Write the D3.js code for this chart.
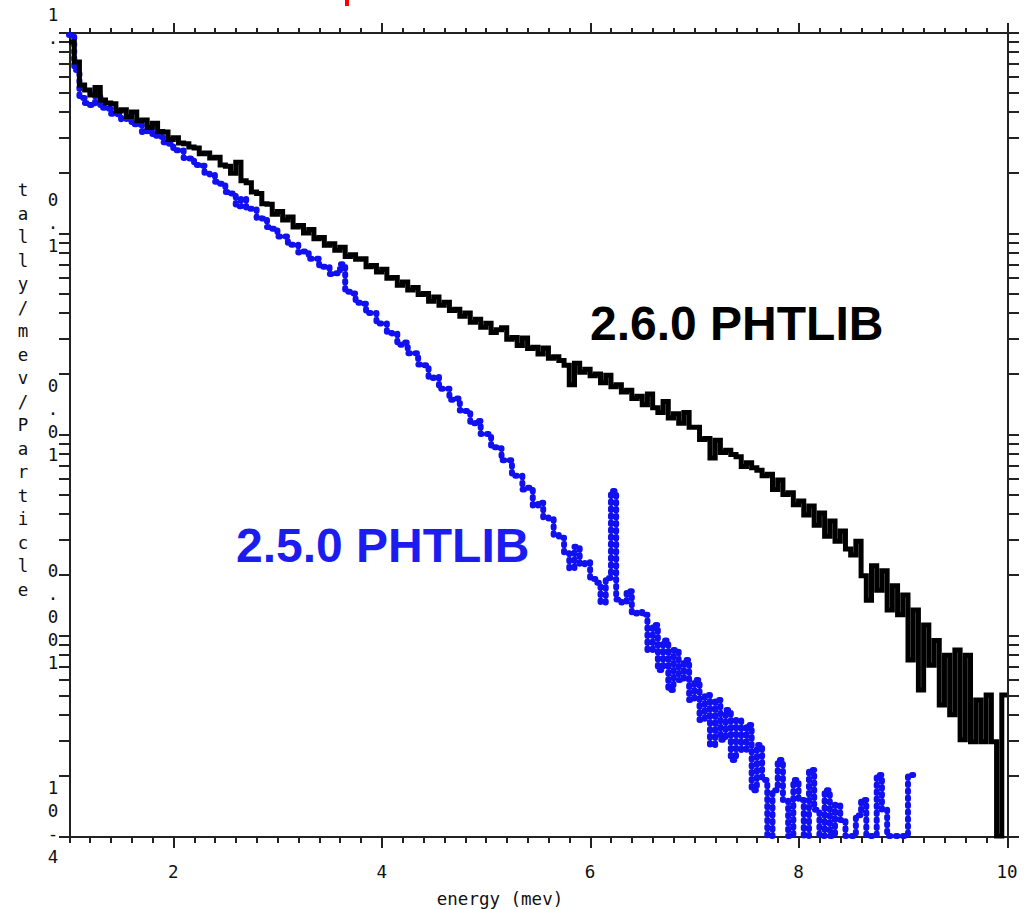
<!DOCTYPE html>
<html><head><meta charset="utf-8">
<script src="https://cdn.jsdelivr.net/npm/d3@7"></script>
<style>
body{margin:0;background:#fff}
svg{display:block}
.lbl{font-family:"DejaVu Sans Mono",monospace;font-size:17.5px;fill:#111}
.axis path,.axis line{stroke:#222;stroke-width:2;shape-rendering:crispEdges}
.axis text{display:none}
</style>
</head><body>
<svg id="c" width="1024" height="909"></svg>
<script>
// ---- data ----
const xMajorTicks = [2, 4, 6, 8, 10];
const xTickLabels = ["2", "4", "6", "8", "10"];
const yDecades = [1, 0.1, 0.01, 0.001, 0.0001];
const yTickLabels = ["1.", "0.1", "0.01", "0.001", "10-4"];
const yTitle = "tally/mev/Particle";
const xTitle = "energy (mev)";
const seriesNames = ["2.6.0 PHTLIB", "2.5.0 PHTLIB"];
const binStart = 1.0, binWidth = 0.05;

// 2.6.0 PHTLIB (black), tally per 0.05 MeV bin from 1.0 MeV
const phtlib260 = [
 0.892,0.710,0.545,0.515,0.486,0.530,0.459,0.443,0.440,0.405,
 0.410,0.380,0.400,0.362,0.365,0.335,0.352,0.320,0.318,0.292,
 0.298,0.280,0.278,0.268,0.265,0.248,0.250,0.236,0.238,0.218,
 0.215,0.198,0.225,0.182,0.178,0.160,0.157,0.140,0.139,0.124,
 0.128,0.116,0.120,0.107,0.109,0.100,0.104,0.0935,0.0950,0.0870,
 0.0885,0.0820,0.0850,0.0765,0.0780,0.0740,0.0745,0.0680,0.0690,0.0640,
 0.0660,0.0595,0.0600,0.0550,0.0570,0.0520,0.0535,0.0495,0.0500,0.0458,
 0.0480,0.0437,0.0452,0.0412,0.0418,0.0385,0.0400,0.0360,0.0372,0.0340,
 0.0356,0.0320,0.0330,0.0338,0.0296,0.0302,0.0276,0.0300,0.0266,0.0270,
 0.0250,0.0268,0.0238,0.0242,0.0232,0.0220,0.0176,0.0225,0.0203,0.0210,
 0.0195,0.0199,0.0180,0.0196,0.0172,0.0176,0.0162,0.0165,0.0150,0.0154,
 0.0140,0.0158,0.0135,0.0128,0.0145,0.0120,0.0126,0.0113,0.0128,0.0108,
 0.0108,0.00940,0.00950,0.00760,0.00930,0.00810,0.00830,0.00790,0.00770,0.00690,
 0.00720,0.00680,0.00660,0.00620,0.00630,0.00530,0.00590,0.00500,0.00510,0.00445,
 0.00464,0.00395,0.00438,0.00352,0.00405,0.00310,0.00369,0.00293,0.00329,0.00268,
 0.00250,0.00293,0.00197,0.00149,0.00221,0.00167,0.00209,0.00133,0.00176,0.00126,
 0.00158,0.000750,0.00133,0.000532,0.00112,0.000708,0.000940,0.000449,0.000794,0.000401,
 0.000841,0.000301,0.000794,0.000294,0.000475,0.000294,0.000503,0.000294,0,0.000503
];
// 2.5.0 PHTLIB (blue)
const phtlib250 = [
 0.966,0.647,0.470,0.443,0.433,0.503,0.420,0.415,0.392,0.390,
 0.368,0.370,0.348,0.345,0.318,0.335,0.305,0.300,0.283,0.278,
 0.258,0.257,0.236,0.235,0.218,0.216,0.197,0.195,0.180,0.176,
 0.160,0.157,0.136,0.148,0.132,0.132,0.119,0.118,0.107,0.105,
 0.0960,0.0960,0.0875,0.0875,0.0800,0.0810,0.0745,0.0745,0.0680,0.0680,
 0.0625,0.0630,0.0700,0.0510,0.0500,0.0450,0.0445,0.0400,0.0400,0.0355,
 0.0355,0.0318,0.0315,0.0278,0.0285,0.0252,0.0252,0.0222,0.0220,0.0190,
 0.0192,0.0168,0.0168,0.0148,0.0150,0.0131,0.0130,0.0113,0.0116,0.0100,
 0.0100,0.00860,0.00850,0.00740,0.00740,0.00620,0.00620,0.00530,0.00540,0.00440,
 0.00455,0.00385,0.00380,0.00315,0.00305,0.00255,0.00215,0.00275,0.00225,0.00230,
 0.00190,0.00182,0.00145,0.00192,0.00520,0.00150,0.00145,0.00165,0.00128,0.00130,
 0.00126,0.000841,0.00112,0.000669,0.000940,0.000532,0.000841,0.000597,0.000750,0.000475,
 0.000597,0.000378,0.000503,0.000284,0.000475,0.000301,0.000423,0.000239,0.000378,0.000268,
 0.000357,0.000169,0.000284,0.000190,0,0.000169,0.000239,0.000151,0,0.000190,
 0.000151,0,0.000213,0.000135,0,0.000169,0,0.000143,0.000120,0,
 0,0.000127,0.000151,0,0,0.000201,0.000135,0,0,0,
 0,0.000201
];

// ---- layout ----
const L = 69, R = 1007, T = 32, B = 836;
const svg = d3.select("#c");
const x = d3.scaleLinear().domain([1, 10]).range([L, R]);
const y = d3.scaleLog().domain([1e-4, 1]).range([B, T]);
const yv = v => v > 0 ? Math.max(T, Math.min(B, y(v))) : B;

// red fragment of cropped title
svg.append("rect").attr("x", 345).attr("y", 0).attr("width", 4).attr("height", 6).attr("fill", "#f00");

// ticks
const xMinor = d3.range(0, 46).map(i => +(1 + i * 0.2).toFixed(2)).filter(v => !xMajorTicks.includes(v));
const yTicks = [];
[-4, -3, -2, -1].forEach(k => { for (let m = 1; m <= 9; m++) yTicks.push(+(m * Math.pow(10, k)).toPrecision(3)); });
yTicks.push(1);

svg.append("g").attr("class", "axis").attr("transform", `translate(0,${B})`)
  .call(d3.axisBottom(x).tickValues(xMinor).tickSize(7).tickSizeOuter(0));
svg.append("g").attr("class", "axis").attr("transform", `translate(0,${B})`)
  .call(d3.axisBottom(x).tickValues(xMajorTicks).tickSize(12).tickSizeOuter(0));
svg.append("g").attr("class", "axis").attr("transform", `translate(0,${T})`)
  .call(d3.axisTop(x).tickValues(xMinor).tickSize(4).tickSizeOuter(0));
svg.append("g").attr("class", "axis").attr("transform", `translate(0,${T})`)
  .call(d3.axisTop(x).tickValues(xMajorTicks).tickSize(9).tickSizeOuter(0));
svg.append("g").attr("class", "axis").attr("transform", `translate(${L},0)`)
  .call(d3.axisLeft(y).tickValues(yTicks).tickSize(10).tickSizeOuter(0));
svg.append("g").attr("class", "axis").attr("transform", `translate(${R},0)`)
  .call(d3.axisRight(y).tickValues(yTicks).tickSize(12).tickSizeOuter(0));

// x tick labels
svg.selectAll(".xl").data(xMajorTicks).enter().append("text")
  .attr("class", "lbl").attr("x", d => x(d)).attr("y", 878)
  .attr("text-anchor", "middle").text((d, i) => xTickLabels[i]);
svg.append("text").attr("class", "lbl").attr("x", 500).attr("y", 905)
  .attr("text-anchor", "middle").text(xTitle);

// y tick labels, stacked vertically
const pitch = 23;
yDecades.forEach((d, i) => {
  const s = yTickLabels[i];
  const first = y(d) - 2 - 15.5 * (s.length - 1);
  s.split("").forEach((ch, k) => {
    svg.append("text").attr("class", "lbl").attr("x", 53).attr("y", first + k * pitch + 6)
      .attr("text-anchor", "middle").text(ch);
  });
});
// y title stacked
yTitle.split("").forEach((ch, k) => {
  svg.append("text").attr("class", "lbl").attr("x", 23).attr("y", 190 + k * 23.5 + 6)
    .attr("text-anchor", "middle").text(ch);
});

// series as step histograms
function stepPts(vals) {
  const pts = [];
  vals.forEach((v, i) => {
    const e0 = binStart + i * binWidth, e1 = e0 + binWidth;
    pts.push([x(e0), yv(v)], [x(e1), yv(v)]);
  });
  return pts;
}
const line = d3.line();
svg.append("path").attr("d", line(stepPts(phtlib250)))
  .attr("fill", "none").attr("stroke", "#1010f0").attr("stroke-width", 6)
  .attr("stroke-dasharray", "1.5,5.5").attr("stroke-linecap", "round").attr("stroke-linejoin", "round");
svg.append("path").attr("d", line(stepPts(phtlib260)))
  .attr("fill", "none").attr("stroke", "#000").attr("stroke-width", 5)
  .attr("stroke-linejoin", "miter");

// legends
svg.append("text").attr("x", 590).attr("y", 340)
  .attr("font-family", "'Liberation Sans', Arial, sans-serif").attr("font-weight", "bold")
  .attr("font-size", 48).attr("fill", "#000").text(seriesNames[0]);
svg.append("text").attr("x", 236).attr("y", 562)
  .attr("font-family", "'Liberation Sans', Arial, sans-serif").attr("font-weight", "bold")
  .attr("font-size", 48).attr("fill", "#1c1cf0").text(seriesNames[1]);
</script>
</body></html>
